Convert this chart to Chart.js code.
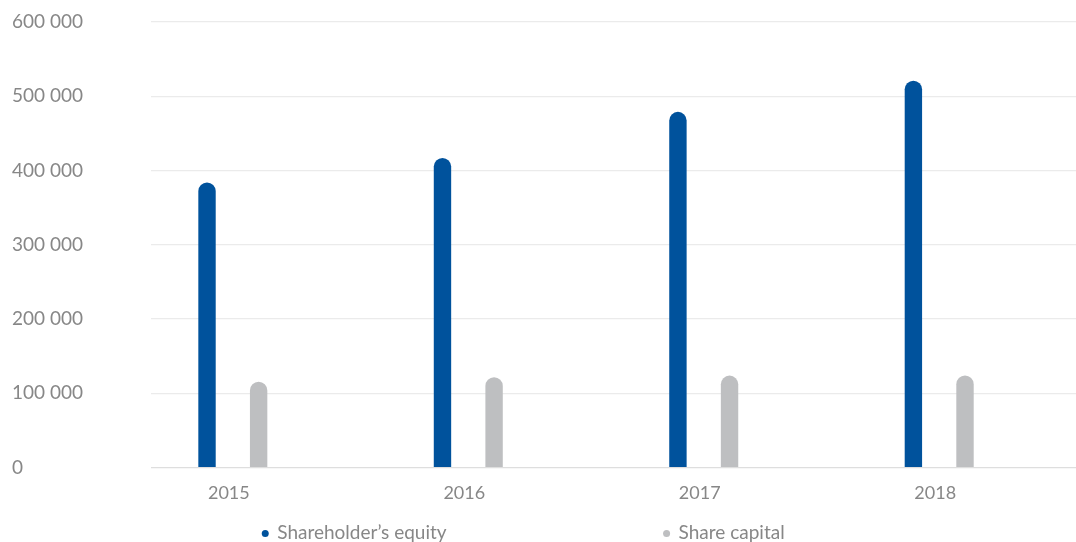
<!DOCTYPE html>
<html>
<head>
<meta charset="utf-8">
<script src="https://cdn.jsdelivr.net/npm/chart.js@4.4.1/dist/chart.umd.min.js"></script>
<style>
  html, body { margin: 0; padding: 0; background: #ffffff; }
  #wrap { width: 1076px; height: 542px; }
</style>
</head>
<body>
<div id="wrap"><canvas id="c" width="1076" height="542"></canvas></div>
<script>
// ---- data ----
const categories = [2015, 2016, 2017, 2018];
const categoryLabels = ['2015', '2016', '2017', '2018'];
const shareholdersEquity = [384000, 417000, 479000, 521000];
const shareCapital = [115500, 121500, 123800, 124000];
const seriesNames = ["Shareholder’s equity", 'Share capital'];
const yTicks = [0, 100000, 200000, 300000, 400000, 500000, 600000];

const BLUE = '#00529c';
const GREY = '#bebfc1';
const TEXT = '#878787';
const FONT = 'Lato';

function fmt(v) {
  return String(v).replace(/\B(?=(\d{3})+(?!\d))/g, ' ');
}

const spreadLegend = {
  id: 'spreadLegend',
  afterDraw(chart, args, opts) {
    const ctx = chart.ctx;
    ctx.save();
    ctx.font = opts.fontSize + 'px ' + FONT;
    ctx.textBaseline = 'middle';
    ctx.textAlign = 'left';
    chart.data.datasets.forEach((ds, i) => {
      const x = chart.width * opts.xFractions[i];
      const y = opts.y;
      ctx.fillStyle = ds.backgroundColor;
      ctx.beginPath();
      ctx.arc(x, y + 0.5, opts.radius, 0, Math.PI * 2);
      ctx.fill();
      ctx.fillStyle = TEXT;
      ctx.fillText(ds.label, x + 12, y);
    });
    ctx.restore();
  }
};

new Chart(document.getElementById('c'), {
  type: 'bar',
  data: {
    datasets: [
      {
        label: seriesNames[0],
        data: categories.map((c, i) => ({ x: c, y: shareholdersEquity[i] })),
        backgroundColor: BLUE,
        borderRadius: 20,
        borderSkipped: 'start'
      },
      {
        label: seriesNames[1],
        data: categories.map((c, i) => ({ x: c, y: shareCapital[i] })),
        backgroundColor: GREY,
        borderRadius: 20,
        borderSkipped: 'start'
      }
    ]
  },
  options: {
    responsive: false,
    devicePixelRatio: 1,
    animation: false,
    categoryPercentage: 0.4384,
    barPercentage: 0.337,
    layout: { padding: { left: 12, top: 22, right: 0, bottom: 39.5 } },
    plugins: {
      legend: { display: false },
      tooltip: { enabled: false },
      spreadLegend: { xFractions: [0.2465, 0.6195], y: 533, radius: 3.5, fontSize: 19 }
    },
    scales: {
      x: {
        type: 'linear',
        offset: false,
        min: 2014.6525,
        max: 2018.581,
        bounds: 'data',
        afterBuildTicks: (s) => { s.ticks = categories.map(v => ({ value: v })); },
        afterFit: (s) => { s.height = 35; },
        grid: { display: false, offset: false, drawTicks: false, tickLength: 0 },
        border: { display: false },
        ticks: {
          padding: 15,
          labelOffset: -4,
          color: TEXT,
          font: { family: FONT, size: 18 },
          autoSkip: false,
          maxRotation: 0,
          callback: (v, i) => categoryLabels[i]
        }
      },
      y: {
        min: 0,
        max: 600000,
        afterBuildTicks: (s) => { s.ticks = yTicks.map(v => ({ value: v })); },
        afterFit: (s) => { s.width = 139; },
        grid: {
          drawTicks: false,
          tickLength: 0,
          color: (c) => (c.tick && c.tick.value === 0) ? '#dedede' : '#ebebeb',
          lineWidth: 1.2
        },
        border: { display: false },
        ticks: {
          crossAlign: 'far',
          color: TEXT,
          font: { family: FONT, size: 19 },
          callback: (v) => fmt(v)
        }
      }
    }
  },
  plugins: [spreadLegend]
});
</script>
</body>
</html>
